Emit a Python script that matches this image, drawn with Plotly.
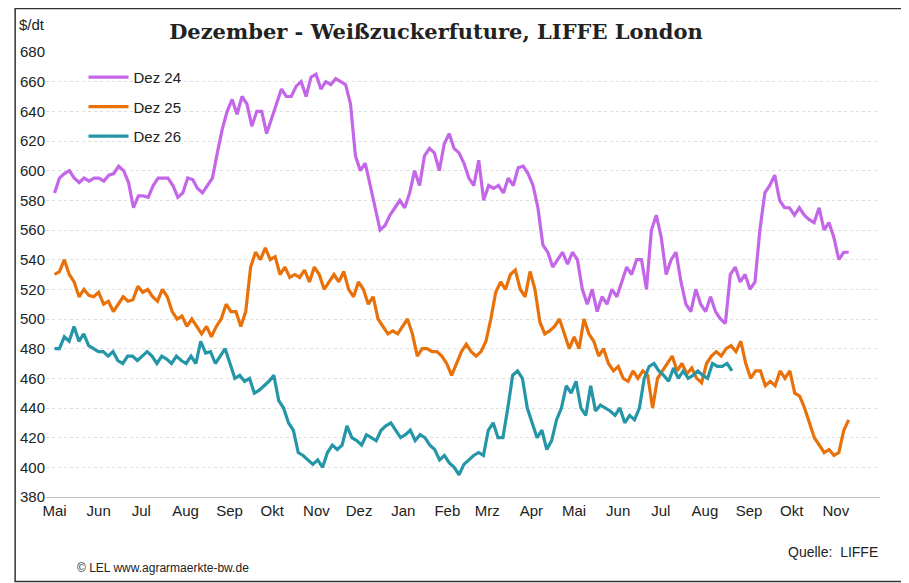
import plotly.graph_objects as go
import numpy as np
import pandas as pd

dez24 = [585,595,598,600,595,592,595,593,595,595,593,597,598,603,600,592,575,583,583,582,590,595,595,595,590,582,585,595,594,588,585,590,595,
 612,628,640,648,638,650,645,630,640,640,625,635,645,655,650,650,657,660,650,663,665,655,660,658,662,660,658,645,610,600,605,590,575,560,563,570,575,580,575,585,600,590,610,615,612,600,618,625,615,612,605,595,590,607,580,590,588,590,585,595,590,602,603,598,590,575,550,545,535,540,545,537,545,540,520,510,520,505,515,510,520,515,525,535,530,540,540,520,560,570,555,530,540,545,525,510,505,520,510,505,515,505,500,497,530,535,525,530,520,525,560,585,590,597,580,575,575,570,575,570,567,565,575,560,565,555,540,545,545]
dez25 = [530,532,540,530,525,515,520,516,515,518,510,512,505,510,515,512,513,522,518,520,515,512,520,515,505,500,502,495,500,495,490,495,488,495,500,510,505,505,495,505,535,545,540,548,540,542,530,535,528,530,528,533,525,535,530,520,525,530,525,532,520,515,525,520,510,515,500,495,490,492,490,495,500,490,475,480,480,478,478,475,470,462,470,478,483,478,475,478,485,500,518,525,520,530,533,520,515,532,520,498,490,492,495,500,490,480,488,480,500,490,485,475,480,470,465,468,460,458,465,460,465,462,440,460,465,470,475,465,470,463,467,460,457,470,475,478,475,480,482,478,485,470,460,465,465,455,458,455,465,460,465,450,448,440,430,420,415,410,412,408,410,425,432]
dez26 = [480,480,488,485,495,485,490,482,480,478,478,475,478,472,470,475,475,472,475,478,475,470,475,473,470,475,472,470,475,470,485,477,478,470,475,480,470,460,462,458,460,450,452,455,458,462,445,440,430,425,410,408,405,402,405,400,410,415,412,415,428,420,418,415,422,420,418,425,428,430,425,420,422,425,418,422,420,415,412,405,408,403,400,395,402,405,408,410,408,425,430,420,420,440,462,465,460,440,430,420,425,412,418,432,440,455,450,458,440,435,455,438,442,440,438,435,440,430,435,432,440,460,468,470,465,462,458,467,460,465,460,462,465,462,460,470,468,468,470,465]

series = [("Dez 24", dez24, "2024-05-01", "2025-11-10", "#C466E8"),
          ("Dez 25", dez25, "2024-05-01", "2025-11-10", "#E8710A"),
          ("Dez 26", dez26, "2024-05-01", "2025-08-20", "#2596A8")]

month_ticks = pd.date_range("2024-05-01", "2025-11-01", freq="MS")
month_names = {1:"Jan",2:"Feb",3:"Mrz",4:"Apr",5:"Mai",6:"Jun",7:"Jul",8:"Aug",9:"Sep",10:"Okt",11:"Nov",12:"Dez"}
tick_labels = [month_names[d.month] for d in month_ticks]

fig = go.Figure()
for name, vals, s, e, col in series:
    t0, t1 = pd.Timestamp(s).value, pd.Timestamp(e).value
    dates = pd.to_datetime(np.linspace(t0, t1, len(vals)))
    fig.add_trace(go.Scatter(x=dates, y=vals, mode="lines", name=name, legendgroup=name,
                             line=dict(color=col, width=3.2)))

fig.update_layout(
    width=901, height=575, paper_bgcolor="white", plot_bgcolor="white",
    margin=dict(l=32, r=29, t=44, b=86),
    title=dict(text="<b>Dezember - Weißzuckerfuture, LIFFE London</b>", x=0.475, y=0.972,
               font=dict(family="DejaVu Serif, serif", size=21, color="#222")),
    font=dict(family="Liberation Sans, Arial", size=15, color="#222"),
    legend=dict(x=0.045, y=0.98, bgcolor="rgba(0,0,0,0)", font=dict(size=15),
                tracegroupgap=7, itemwidth=40),
    showlegend=True,
    xaxis=dict(range=["2024-04-25", "2025-12-02"], tickvals=month_ticks, ticktext=tick_labels,
               showgrid=False, showline=True, linecolor="#bbb", ticks="", tickfont=dict(size=15)),
    yaxis=dict(range=[380, 680], dtick=20, showgrid=True, gridcolor="#ddd", griddash="dot",
               zeroline=False, ticks="", tickfont=dict(size=15)),
    shapes=[dict(type="rect", xref="paper", yref="paper", x0=-0.037, x1=1.046, y0=-0.19, y1=1.098,
                 line=dict(color="#333", width=1.5))],
    annotations=[
        dict(text="$/dt", xref="paper", yref="paper", x=-0.035, y=1.085, showarrow=False,
             xanchor="left", font=dict(size=15)),
        dict(text="© LEL www.agrarmaerkte-bw.de", xref="paper", yref="paper", x=0.035, y=-0.18,
             showarrow=False, xanchor="left", font=dict(size=12)),
        dict(text="Quelle:  LIFFE", xref="paper", yref="paper", x=1.0, y=-0.146,
             showarrow=False, xanchor="right", font=dict(size=14)),
    ],
)
fig.write_html("out.html")
